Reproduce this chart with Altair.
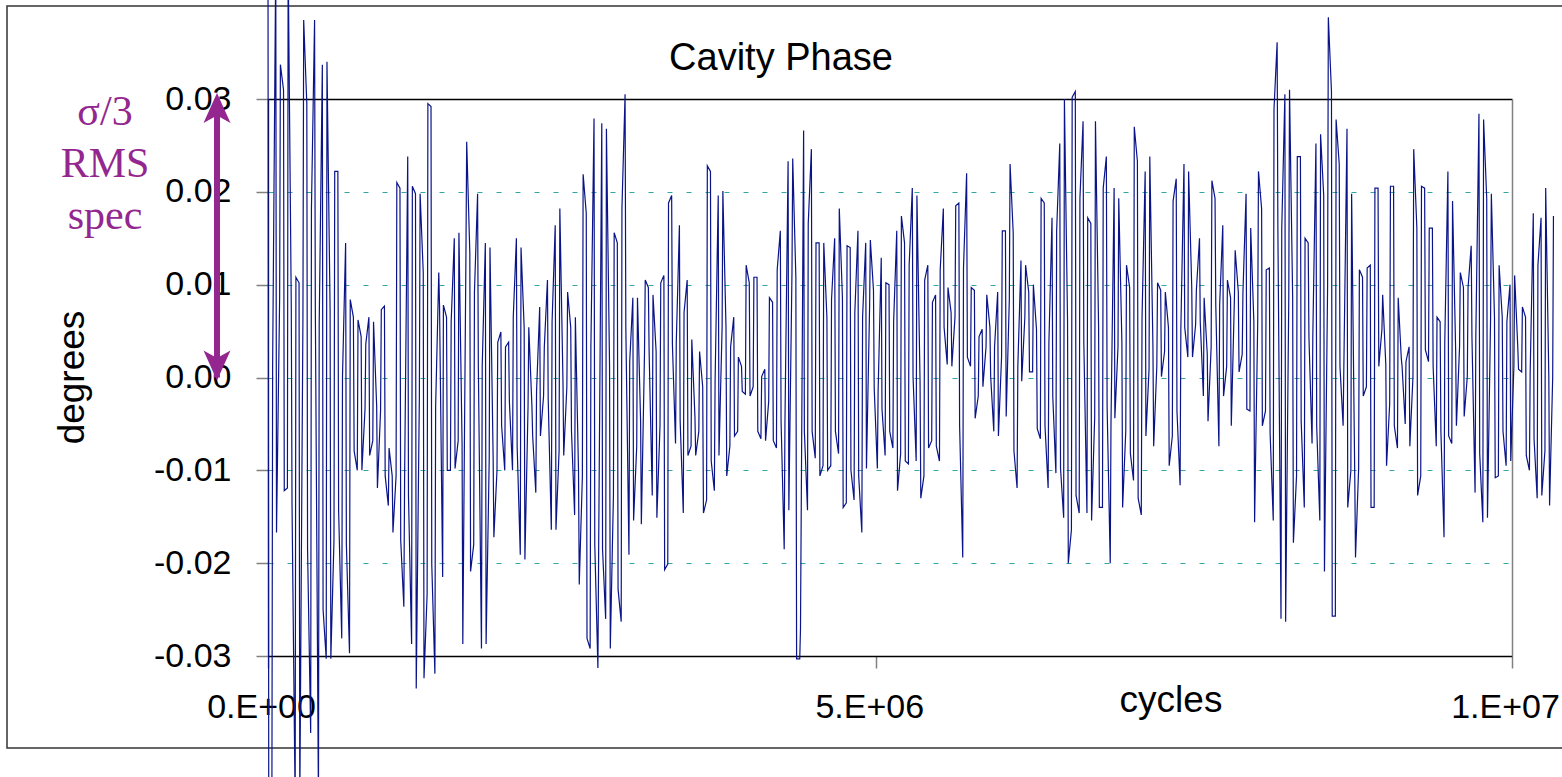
import altair as alt
import pandas as pd

# Cavity phase record: one swing every SWING_STEP machine cycles; the
# second extreme of a swing follows the first after SWING_RISE cycles.
SWING_STEP = 31200
SWING_RISE = 6000

# Peak and trough of every swing, left to right, in units of 1e-4 degree.
SWING_HIGH = [
    450, 12, 450, 337, 310, 450, 76, 108, 102, 385, 295, 182, 385, 57, 337, 340, 73, 222, 222, 1,
    145, 84, 65, 62, 44, 36, 65, 60, -31, 73, 77, -76, -106, 210, 204, -111, 238, 206, 198, 198,
    113, 295, 292, -31, 113, 78, 65, 60, 150, 156, -71, 254, 134, 92, 198, 12, 145, 140, -84, 38,
    49, 33, 38, 65, 150, 140, 54, 54, -31, -15, 76, 33, 105, 60, 164, 182, -4, 92, 54, 65,
    -100, 219,
    177, 33, 279, -185, 274, 268, 12, 156, 145, 182, 305, 17, 86, 86, -47, 105, 97, 89, 28, 102,
    110, 188, 196, 38, 164, 70, 105, 41, -42, 28, -10, 228, 222, -4, 196, 201, 54, 33, 65, 22,
    12, 121, 102, 108, 108, 1, 9, 86, 81, 116, 158, -47, 233, 236, 108, -271, 266, 166, 246, 145,
    145, 145, 65, 84, 150, 182, 86, 142, 140, 70, 158, 65, 145, 148, 94, -15, 129, 102, 100, 60,
    158, 174, 145, 121, 204,
    196, -4, 105, 121, 81, 89, 116, 182, 97, 70, 185, 188, 118, 220, 97, 94, 44, 52, 89, 54,
    33, 92, 158, 158, 230, 156, 12, 126, 121, 92, 100, 52, 193, 188, 36, 172, 158, 252, 300, 60,
    302, 308, 193, 276, 172, 166, 276, 54, 204, 238, -50, 204, 193, 38, 121, 97, 270, 233, 65, 222,
    238, 33, 102, 94, 92, 54, 190, 214, 52, 230, 222, 97, 94, 150, 86, 25, 212, 193, 78, 164,
    105, 86, 137, 92, 92,
    198, 161, 60, 222, 182, 116, 118, 289, 361, 161, 305, 310, 86, 238, 238, 150, 145, 44, 252, 262,
    196, 388, 308, 278, 230, 12, 268, 198, -106, 116, 108, 118, 121, 204, 204, 89, 14, 206, 206, 86,
    20, 17, 33, 246, 161, 206, 204, 161, 161, 65, 60, 38, 222, 190, 28, 113, 97, 97, 142, 44,
    284, 278, 193, 198, 65, 121, 65, 60, 100, 110, 33, 76, 65, 4, 177, 121, 172, 204, 1, 174,
]
SWING_LOW = [
    -460, -460, -167, 86, -122, -119, -138, -460, -460, 65, -185, -383, 76, -460, -250, -303, -303, -175, -143, -281,
    -180, -297, -79, -100, -100, -34, -84, -68, -119, -36, -106, -138, -167, -106, -175, -247, -127, -287, -335, -20,
    -324, -233, -201, -319, 78, -215, -100, -100, -98, -68, -287, 134, -209, -180, 12, -292, -287, -87, -172, -100,
    -52, -100, -26, -100, -74, -191, -196, -31, -63, -124, -63, -20, -23, -164, -164, -79, -84, -10, -58, -148,
    -223, -106,
    -281, -292, -180, -313, -185, -260, -292, -127, -228, -263, 54, -191, -154, -74, -158, 25, 28, -127, -151, -52,
    -207, -201, 36, -71, -47, -146, -84, -74, -84, -58, -146, -132, -90, -122, -84, 54, -106, -74, -63, -58,
    -15, -18, -20, -10, -58, -66, -68, -26, -68, -76, -47, -185, -143, 113, -303, -303, -58, -143, -58, -87,
    -106, -95, -100, -95, -58, -82, -140, -135, -100, -132, -106, -167, -98, 76, -12, -98, -34, -84, -58, -76,
    -122, -82, -90, -93, 1,
    -90, -130, -106, -76, -68, -74, -90, 54, 14, 12, 65, -52, -194, 22, 12, -44, -20, -10, 33, 1,
    -58, -63, 22, -42, 84, -79, -119, -4, 65, 6, 6, -55, -66, -52, -119, -20, -103, -98, -151, -200,
    -164, -127, -146, 38, -146, -154, -42, -140, -140, -31, -200, -44, 33, -140, -58, -82, -111, -130, -148, -63,
    9, -74, 12, 1, 28, -95, -63, -36, -116, 54, 22, 22, 57, 60, -20, -47, 33, 78, -74, -20,
    12, -52, 86, 6, 25,
    -34, -36, -156, 60, -52, -36, -60, -154, 161, -260, -263, 86, -178, -106, -47, -140, 44, -71, -52, -154,
    -209, 97, -257, -257, 12, -52, -140, -100, -194, -98, -20, -10, -140, -140, 12, 52, -95, -28, -52, -76,
    12, -50, -74, 1, -127, -106, 30, 17, 12, -74, -58, -172, -63, -71, -52, 33, -42, 1, 44, -124,
    -82, -156, -151, 65, -108, -106, -58, -95, -90, 12, 9, 6, -84, -100, -66, -130, -127, -79, -138, 1,
]

Y_TICKS = [-0.03, -0.02, -0.01, 0.0, 0.01, 0.02, 0.03]
X_TICKS = [0, 4.89e6, 1.0e7]
SPEC_TEXT = ["\u03c3/3", "RMS", "spec"]
SPEC_RANGE = [0.03, 0.0]

# Swings alternate direction: down, up, down, ...
cycles, degrees = [], []
for k, (hi, lo) in enumerate(zip(SWING_HIGH, SWING_LOW)):
    first, second = (hi, lo) if k % 2 == 0 else (lo, hi)
    cycles += [k * SWING_STEP, k * SWING_STEP + SWING_RISE]
    degrees += [first / 1e4, second / 1e4]
df = pd.DataFrame({"cycles": cycles, "degrees": degrees})
one = pd.DataFrame({"cycles": [0], "degrees": [0.0]})

W, H = 1244, 557
SANS = "Liberation Sans"
SERIF = "Liberation Serif"
PURPLE = "#93278f"

x_label = ("datum.value == 0 ? '0.E+00' : "
           "round(datum.value / pow(10, floor(log(datum.value) / LN10 + 1e-9))) + '.E+0' + "
           "floor(log(datum.value) / LN10 + 1e-9)")
y_label = "(datum.value < -1e-9 ? '-' : '') + format(abs(datum.value), '.2f')"

x_scale = alt.Scale(domain=[0, 1.0e7], nice=False, zero=False)
y_scale = alt.Scale(domain=[-0.03, 0.03], nice=False, zero=False)

trace = alt.Chart(df).mark_line(color="#0a1488", strokeWidth=1.2, clip=False).encode(
    x=alt.X("cycles:Q", scale=x_scale, axis=alt.Axis(
        values=X_TICKS, labelExpr=x_label, title=None, grid=False,
        domainColor="black", domainWidth=1.3, tickColor="#808080", tickSize=12, tickWidth=1.5,
        labelFont=SANS, labelFontSize=34, labelColor="black", labelPadding=22, labelOffset=-7,
        labelFlush=False, labelOverlap=False)),
    y=alt.Y("degrees:Q", scale=y_scale, axis=alt.Axis(
        values=Y_TICKS, labelExpr=y_label, title=None, grid=True,
        gridColor="#33a6a6", gridDash=[5, 14], gridWidth=1,
        domainColor="black", domainWidth=1.3, tickColor="#808080", tickSize=12, tickWidth=1.5,
        labelFont=SANS, labelFontSize=34, labelColor="black", labelPadding=25)),
)

# top and right edges of the plot frame
frame = alt.Chart(one).mark_point(opacity=0).encode(
    x=alt.X("cycles:Q", scale=x_scale, axis=alt.Axis(
        orient="top", labels=False, ticks=False, grid=False, title=None,
        domainColor="black", domainWidth=1.3)),
    y=alt.Y("degrees:Q", scale=y_scale, axis=alt.Axis(
        orient="right", labels=False, ticks=False, grid=False, title=None,
        domainColor="#808080", domainWidth=1.5)),
)

title = alt.Chart(one).mark_text(
    text="Cavity Phase", font=SANS, fontSize=38, color="black", align="center", baseline="alphabetic"
).encode(x=alt.value(513), y=alt.value(-29))

x_title = alt.Chart(one).mark_text(
    text="cycles", font=SANS, fontSize=37, color="black", align="center", baseline="alphabetic"
).encode(x=alt.value(903), y=alt.value(613))

y_title = alt.Chart(one).mark_text(
    text="degrees", font=SANS, fontSize=37, color="black", align="center", baseline="alphabetic", angle=270
).encode(x=alt.value(-184), y=alt.value(H / 2))

spec_text = alt.Chart(one).mark_text(
    text=SPEC_TEXT, font=SERIF, fontSize=42, color=PURPLE, align="center", baseline="alphabetic",
    lineHeight=52
).encode(x=alt.value(-163), y=alt.value(26))

spec_df = pd.DataFrame({"top": [SPEC_RANGE[0]], "bottom": [SPEC_RANGE[1]]})
spec_shaft = alt.Chart(spec_df).mark_rule(color=PURPLE, strokeWidth=6).encode(
    x=alt.value(-51), y=alt.Y("top:Q", scale=y_scale, axis=None), y2="bottom:Q")
HEAD_UP = "M0,-1 L0.9,1 L0,0.5 L-0.9,1 Z"
HEAD_DOWN = "M0,1 L0.9,-1 L0,-0.5 L-0.9,-1 Z"
head_top = alt.Chart(spec_df).mark_point(
    shape=HEAD_UP, size=900, filled=True, opacity=1, color=PURPLE, strokeWidth=0, yOffset=9
).encode(x=alt.value(-51), y=alt.Y("top:Q", scale=y_scale, axis=None))
head_bottom = alt.Chart(spec_df).mark_point(
    shape=HEAD_DOWN, size=900, filled=True, opacity=1, color=PURPLE, strokeWidth=0, yOffset=-12
).encode(x=alt.value(-51), y=alt.Y("bottom:Q", scale=y_scale, axis=None))

outer = alt.Chart(one).mark_rect(fillOpacity=0, stroke="#333333", strokeWidth=1.5).encode(
    x=alt.value(-261), x2=alt.value(1310), y=alt.value(-93), y2=alt.value(649))

chart = alt.layer(
    outer, trace, frame, title, x_title, y_title, spec_shaft, head_top, head_bottom, spec_text
).resolve_axis(x="independent", y="independent").properties(
    width=W, height=H,
    padding={"left": 268, "top": 99, "right": 50, "bottom": 121},
    autosize=alt.AutoSizeParams(type="none"),
    background="white",
).configure_view(stroke=None)

chart.save("out.html", embed_options={"renderer": "svg", "actions": False})
